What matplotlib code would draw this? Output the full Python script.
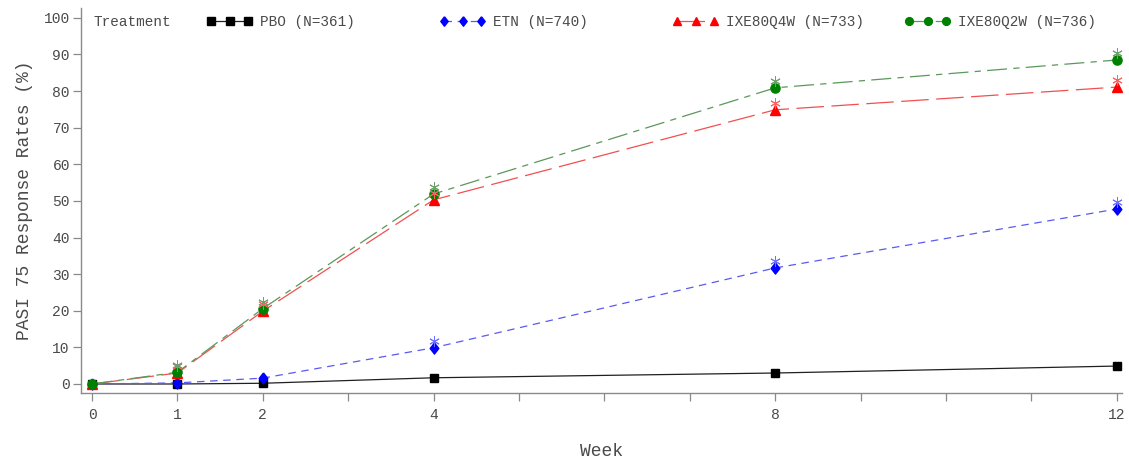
import matplotlib
matplotlib.use("Agg")
import matplotlib.pyplot as plt
from matplotlib.lines import Line2D
from matplotlib.legend import Legend

# ---- data ----
weeks = [0, 1, 2, 4, 8, 12]
pbo = [0.0, 0.0, 0.2, 1.7, 3.0, 4.9]
etn = [0.0, 0.3, 1.6, 9.9, 31.7, 47.8]
ixe_q4w = [0.0, 3.0, 19.9, 50.3, 74.9, 81.1]
ixe_q2w = [0.0, 3.2, 20.6, 51.9, 80.9, 88.5]
# significance flags (asterisk) per week
sig_etn = [False, False, False, True, True, True]
sig_q4w = [False, True, True, True, True, True]
sig_q2w = [False, True, True, True, True, True]
labels = ["PBO (N=361)", "ETN (N=740)", "IXE80Q4W (N=733)", "IXE80Q2W (N=736)"]
major_ticks = [0, 1, 2, 4, 8, 12]
minor_ticks = [3, 5, 6, 7, 9, 10, 11]
y_ticks = list(range(0, 101, 10))

FONT = ["Liberation Mono", "DejaVu Sans Mono"]
plt.rcParams["font.family"] = FONT
TXT = "#4a4a4a"
SPINE = "#8a8a8a"

W, H = 1129, 459
fig = plt.figure(figsize=(W / 100, H / 100), dpi=100)
L, R, B, T = 81, 1122, 393, 8
ax = fig.add_axes([L / W, 1 - B / H, (R - L) / W, (B - T) / H])

diamond = [(0, 1), (0.78, 0), (0, -1), (-0.78, 0), (0, 1)]

series = [
    dict(y=pbo, sig=None, mk="s", ms=6.2, mc="black", lc="#202020", ls="-", dash=None, sc=None),
    dict(y=etn, sig=sig_etn, mk=diamond, ms=8.0, mc="#0000ff", lc="#5a5af0", ls="--", dash=(6, 4.5), sc="#7070ff"),
    dict(y=ixe_q4w, sig=sig_q4w, mk="^", ms=7.0, mc="#ff0000", lc="#f05050", ls="--", dash=(22, 6), sc="#ff6060"),
    dict(y=ixe_q2w, sig=sig_q2w, mk="o", ms=6.6, mc="#008000", lc="#5a985a", ls="--", dash=(16, 5, 5, 5), sc="#70a070"),
]

handles = []
for s in series:
    kw = {}
    if s["dash"] is not None:
        kw["dashes"] = s["dash"]
    ax.plot(weeks, s["y"], color=s["lc"], lw=0.9, linestyle=s["ls"], zorder=2, **kw)
    ax.plot(weeks, s["y"], linestyle="none", marker=s["mk"], ms=s["ms"],
            mfc=s["mc"], mec=s["mc"], zorder=3)
    if s["sig"] is not None:
        xs = [w for w, f in zip(weeks, s["sig"]) if f]
        ys = [v + 1.9 for v, f in zip(s["y"], s["sig"]) if f]
        ax.plot(xs, ys, linestyle="none", marker=(6, 2, 0), ms=7.5, mew=0.7,
                mec=s["sc"], zorder=4)
    h = Line2D([], [], color=s["lc"], lw=0.9, linestyle=s["ls"], marker=s["mk"],
               ms=s["ms"] * 0.85, mfc=s["mc"], mec=s["mc"], **kw)
    handles.append(h)

ax.set_xlim(-0.129, 12.06)
ax.set_ylim(-2.46, 102.7)
ax.set_xticks(major_ticks)
ax.set_xticks(minor_ticks, minor=True)
ax.set_yticks(y_ticks)
ax.tick_params(axis="both", which="both", colors=SPINE, labelcolor=TXT, labelsize=10.5,
               length=6, width=0.9)
ax.tick_params(axis="x", which="major", pad=5)
ax.tick_params(axis="y", pad=2)
for sp in ["top", "right"]:
    ax.spines[sp].set_visible(False)
for sp in ["left", "bottom"]:
    ax.spines[sp].set_color(SPINE)
    ax.spines[sp].set_linewidth(1.0)

ax.set_xlabel("Week", fontsize=13, color=TXT, labelpad=15)
ax.set_ylabel("PASI 75 Response Rates (%)", fontsize=13, color=TXT, labelpad=8)

# ---- legend (inside top) ----
def axfx(px):
    return (px - L) / (R - L)

ly = (B - 22) / (B - T)
ax.text(axfx(93), ly, "Treatment", transform=ax.transAxes, fontsize=10.4,
        color=TXT, va="center", ha="left")
first_marker_px = [211, 444, 677, 909]
fs = 10.4
em = fs * 100 / 72.0
for h, lab, fx in zip(handles, labels, first_marker_px):
    pad = 0.3 * em
    width_px = 37 + 2 * pad
    leg = Legend(ax, [h], [lab], loc="center left",
                 bbox_to_anchor=(axfx(fx - pad), ly), bbox_transform=ax.transAxes,
                 frameon=False, numpoints=3, fontsize=fs, handlelength=width_px / em,
                 handletextpad=0.55, borderpad=0, borderaxespad=0, labelcolor=TXT)
    ax.add_artist(leg)

fig.savefig("out.png", dpi=100)
